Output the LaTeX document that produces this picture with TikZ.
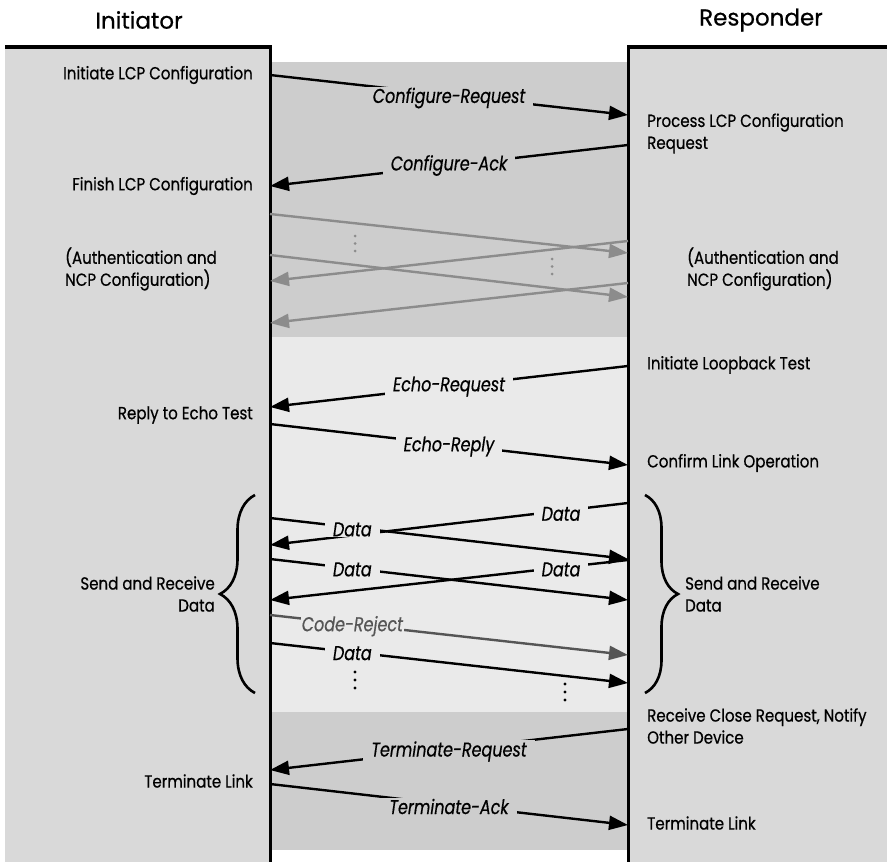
\documentclass[tikz,border=0pt]{standalone}
\usepackage{fontspec}
\setmainfont{Poppins}[FakeStretch=0.86,FakeBold=0.6]
\newfontfamily\msgfamily{Poppins}[FakeStretch=0.8,FakeBold=0.5]
\newfontfamily\headfamily{Poppins}[FakeStretch=1.0,FakeBold=0.6]
\usetikzlibrary{arrows.meta,decorations.pathreplacing}
\definecolor{panelgray}{HTML}{D9D9D9}
\definecolor{banddark}{HTML}{CDCDCD}
\definecolor{bandlight}{HTML}{EAEAEA}
\definecolor{arrowgray}{HTML}{8C8C8C}
\definecolor{rejectgray}{HTML}{555555}
\newcommand{\diagbody}{\fontsize{17.5}{22}\selectfont}
\newcommand{\diagmsg}{\msgfamily\fontsize{20}{22}\selectfont\itshape}
\newcommand{\diaghead}{\headfamily\fontsize{23}{26}\selectfont}
\begin{document}
\begin{tikzpicture}[x=1pt,y=-1pt,
  msg/.style={line width=2.4pt,-{Triangle[length=19pt,width=14pt]}},
  gmsg/.style={msg,draw=arrowgray,color=arrowgray},
  rmsg/.style={msg,draw=rejectgray,color=rejectgray},
  lbl/.style={font=\diagmsg,inner xsep=8pt,inner ysep=1pt},
  lbldark/.style={lbl,fill=banddark},
  lbllight/.style={lbl,fill=bandlight},
  lft/.style={anchor=east,font=\diagbody,inner sep=0pt,align=right},
  rgt/.style={anchor=west,font=\diagbody,inner sep=0pt,align=left},
  lifeline/.style={line width=3pt},
  topline/.style={line width=4pt},
  bracestyle/.style={line width=2.6pt,decorate},
  gdot/.style={fill=arrowgray},
  bdot/.style={fill=black}]
\fill[white] (0,0) rectangle (887,862);
\useasboundingbox (0,0) rectangle (887,862);
% panels and bands
\fill[panelgray] (5,47) rectangle (270,862);
\fill[panelgray] (628,47) rectangle (887,862);
\fill[banddark] (270,62) rectangle (628,337);
\fill[bandlight] (270,337) rectangle (628,712);
\fill[banddark] (270,712) rectangle (628,850);
\draw[topline] (5,47) -- (271.5,47);
\draw[topline] (887,47) -- (626.5,47);
\draw[lifeline] (270,47) -- (270,862);
\draw[lifeline] (628,47) -- (628,862);
% headers
\node[font=\diaghead] (init) at (139,20) {Initiator};
\node[font=\diaghead] (resp) at (761,20) {Responder};
% left labels
\node[lft] (l1) at (253,75) {Initiate LCP Configuration};
\node[lft] (l2) at (253,186) {Finish LCP Configuration};
\node[rgt] (l3) at (65,269) {(Authentication and\\NCP Configuration)};
\node[lft] (l4) at (253,415) {Reply to Echo Test};
\node[lft] (l5) at (215,594) {Send and Receive\\Data};
\node[lft] (l6) at (253,781) {Terminate Link};
% right labels
\node[rgt] (r1) at (647,133.5) {Process LCP Configuration\\Request};
\node[rgt] (r2) at (687,269) {(Authentication and\\NCP Configuration)};
\node[rgt] (r3) at (647,365) {Initiate Loopback Test};
\node[rgt] (r4) at (647,463) {Confirm Link Operation};
\node[rgt] (r5) at (685,594) {Send and Receive\\Data};
\node[rgt] (r6) at (647,726) {Receive Close Request, Notify\\Other Device};
\node[rgt] (r7) at (647,823) {Terminate Link};
% braces
\draw[bracestyle,decoration={brace,amplitude=35pt}] (255,693) -- (255,495);
\draw[bracestyle,decoration={brace,amplitude=33pt}] (645,495) -- (645,693);
% coordinates on the lifelines
\coordinate (cqs) at (270,75);  \coordinate (cqe) at (628,115);
\coordinate (cas) at (628,145); \coordinate (cae) at (270,186);
\coordinate (g1s) at (270,214); \coordinate (g1e) at (628,253);
\coordinate (g2s) at (628,241); \coordinate (g2e) at (270,281);
\coordinate (g3s) at (270,255); \coordinate (g3e) at (628,297);
\coordinate (g4s) at (628,283); \coordinate (g4e) at (270,323);
\coordinate (eqs) at (628,366); \coordinate (eqe) at (270,407);
\coordinate (eps) at (270,424); \coordinate (epe) at (628,465);
\coordinate (das) at (270,518); \coordinate (dae) at (628,559);
\coordinate (dbs) at (628,503); \coordinate (dbe) at (270,545);
\coordinate (dcs) at (270,559); \coordinate (dce) at (628,600);
\coordinate (dds) at (628,560); \coordinate (dde) at (270,600);
\coordinate (crs) at (270,615); \coordinate (cre) at (628,655);
\coordinate (dfs) at (270,643); \coordinate (dfe) at (628,683);
\coordinate (tqs) at (628,729); \coordinate (tqe) at (270,770);
\coordinate (tas) at (270,784); \coordinate (tae) at (628,825);
% LCP configuration
\draw[msg] (cqs) -- node[lbldark,pos=.5,yshift=-3pt] (cqlabel) {Configure-Request} (cqe);
\draw[msg] (cas) -- node[lbldark,pos=.5] (calabel) {Configure-Ack} (cae);
% authentication / NCP
\draw[gmsg] (g1s) -- (g1e);
\draw[gmsg] (g2s) -- (g2e);
\draw[gmsg] (g3s) -- (g3e);
\draw[gmsg] (g4s) -- (g4e);
\foreach \yy in {236,243.5,251} \fill[gdot] (355,\yy) circle (1.5pt);
\foreach \yy in {259,266.5,274} \fill[gdot] (552,\yy) circle (1.5pt);
% echo
\draw[msg] (eqs) -- node[lbllight,pos=.5] (eqlabel) {Echo-Request} (eqe);
\draw[msg] (eps) -- node[lbllight,pos=.5,yshift=-2pt] (eplabel) {Echo-Reply} (epe);
% data
\draw[msg] (dbs) -- node[lbllight,pos=.187,yshift=-3pt] (dblabel) {Data} (dbe);
\draw[msg] (das) -- node[lbllight,pos=.23,yshift=-2pt] (dalabel) {Data} (dae);
\draw[msg] (dcs) -- node[lbllight,pos=.23,yshift=-1pt] (dclabel) {Data} (dce);
\draw[msg] (dds) -- node[lbllight,pos=.187,yshift=-2pt] (ddlabel) {Data} (dde);
\draw[rmsg] (crs) -- node[lbllight,pos=.23,yshift=-2pt,inner xsep=1pt,text=rejectgray] (crlabel) {Code-Reject} (cre);
\draw[msg] (dfs) -- node[lbllight,pos=.23,yshift=-1pt] (dflabel) {Data} (dfe);
\foreach \yy in {672,680,688} \fill[bdot] (355,\yy) circle (1.6pt);
\foreach \yy in {684,692,700} \fill[bdot] (565,\yy) circle (1.6pt);
% terminate
\draw[msg] (tqs) -- node[lbldark,pos=.5,yshift=-2pt] (tqlabel) {Terminate-Request} (tqe);
\draw[msg] (tas) -- node[lbldark,pos=.5,yshift=-2pt] (talabel) {Terminate-Ack} (tae);
\end{tikzpicture}
\end{document}
